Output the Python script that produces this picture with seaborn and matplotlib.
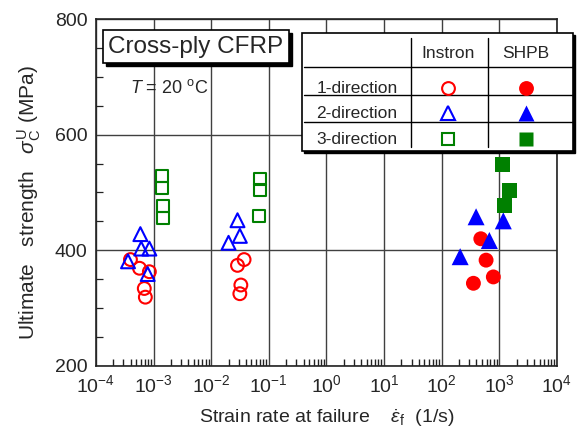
import matplotlib
matplotlib.use("Agg")
import matplotlib.pyplot as plt
from matplotlib.patches import Rectangle
from matplotlib.ticker import LogLocator, MultipleLocator, NullFormatter, NullLocator
import seaborn as sns

# Daten
inst_1_x = [3.97e-4, 5.7e-4, 8.45e-4, 6.9e-4, 7.2e-4, 0.0372, 0.0286, 0.0327, 0.0314]
inst_1_y = [384, 369, 363, 334, 319, 384, 374, 340, 325]
inst_2_x = [5.9e-4, 6.1e-4, 8.45e-4, 3.6e-4, 7.9e-4, 0.0286, 0.0314, 0.020]
inst_2_y = [428, 403, 403, 381, 359, 452, 425, 413]
inst_3_x = [1.39e-3, 1.39e-3, 1.44e-3, 1.48e-3, 0.0697, 0.0697, 0.068]
inst_3_y = [528, 507, 477, 456, 523, 504, 459]
shpb_1_x = [477, 589, 787, 355]
shpb_1_y = [420, 383, 354, 343]
shpb_2_x = [395, 1172, 671, 209]
shpb_2_y = [458, 451, 417, 389]
shpb_3_x = [1145, 1490, 1222]
shpb_3_y = [548, 504, 478]

row_labels = ["1-direction", "2-direction", "3-direction"]
col_labels = ["Instron", "SHPB"]

# Stil
sns.set_style("white")
plt.rcParams['font.family'] = ['Liberation Sans', 'DejaVu Sans']
plt.rcParams['mathtext.fontset'] = 'custom'
plt.rcParams['mathtext.rm'] = 'Liberation Sans'
plt.rcParams['mathtext.it'] = 'Liberation Sans:italic'
plt.rcParams['mathtext.bf'] = 'Liberation Sans:bold'

fig = plt.figure(figsize=(5.78, 4.28), dpi=100)
ax = fig.add_axes([0.166, 0.1449, 0.7976, 0.8107])

# Messpunkte
sns.scatterplot(x=inst_1_x, y=inst_1_y, marker='o', s=85, facecolor='none',
                edgecolor='red', linewidth=1.5, ax=ax, zorder=3)
sns.scatterplot(x=inst_2_x, y=inst_2_y, marker='^', s=100, facecolor='none',
                edgecolor='blue', linewidth=1.5, ax=ax, zorder=3)
sns.scatterplot(x=inst_3_x, y=inst_3_y, marker='s', s=75, facecolor='none',
                edgecolor='green', linewidth=1.5, ax=ax, zorder=3)
sns.scatterplot(x=shpb_1_x, y=shpb_1_y, marker='o', s=115, color='red',
                edgecolor='none', ax=ax, zorder=3)
sns.scatterplot(x=shpb_2_x, y=shpb_2_y, marker='^', s=150, color='blue',
                edgecolor='none', ax=ax, zorder=3)
sns.scatterplot(x=shpb_3_x, y=shpb_3_y, marker='s', s=115, color='green',
                edgecolor='none', ax=ax, zorder=3)

# Achsen
ax.set_xscale('log')
ax.set_xlim(1e-4, 1e4)
ax.set_ylim(200, 800)
ax.xaxis.set_major_locator(LogLocator(base=10, numticks=100))
ax.xaxis.set_minor_locator(NullLocator())
ax.xaxis.set_minor_formatter(NullFormatter())
ax.yaxis.set_major_locator(MultipleLocator(200))
ax.yaxis.set_minor_locator(MultipleLocator(50))
ax.tick_params(which='both', direction='in', bottom=True, left=True,
               top=False, right=False, labelsize=14, color='#222222')
ax.tick_params(which='major', length=0, pad=6)
ax.tick_params(which='minor', length=5, width=0.9)
for sp in ax.spines.values():
    sp.set_color('#222222')
    sp.set_linewidth(1.2)

# kleine Striche an der x-Achse (2..9 je Dekade)
minor_x = [m * 10.0 ** e for e in range(-4, 4) for m in range(2, 10)]
ax.vlines(minor_x, 0, 0.02, transform=ax.get_xaxis_transform(),
          color='#222222', linewidth=1.0, zorder=4)

# Grid
ax.grid(True, which='major', color='#404040', linewidth=1.0)
ax.set_axisbelow(True)

ax.set_xlabel(r'Strain rate at failure    $\dot{\varepsilon}_{\rm f}$  (1/s)',
              fontsize=14, labelpad=8)
ax.set_ylabel(r'Ultimate   strength   $\sigma_{\rm C}^{\rm U}$ (MPa)',
              fontsize=15)
ax.yaxis.set_label_coords(-0.115, 0.47)

# Titel-Box mit Schatten
W, H = 461.0, 347.0
bx0, bx1, by0, by1 = 0.0152, 0.4187, 0.873, 0.968
ax.add_patch(Rectangle((bx0 + 3 / W, by0 - 3 / H), bx1 - bx0, by1 - by0,
                       transform=ax.transAxes, facecolor='black',
                       edgecolor='black', zorder=6, clip_on=False))
ax.add_patch(Rectangle((bx0, by0), bx1 - bx0, by1 - by0,
                       transform=ax.transAxes, facecolor='white',
                       edgecolor='black', linewidth=1.2, zorder=7, clip_on=False))
ax.text((bx0 + bx1) / 2, (by0 + by1) / 2, 'Cross-ply CFRP', fontsize=17.5,
        ha='center', va='center', transform=ax.transAxes, zorder=8)
ax.text(0.074, 0.801, r'$T$ = 20 $^{\rm o}$C', fontsize=13, ha='left',
        va='center', transform=ax.transAxes, zorder=8)

# Legenden-Tabelle
tx0, tx1, ty0, ty1 = 0.448, 1.035, 0.620, 0.960
ax.add_patch(Rectangle((tx0 + 2 / W, ty0 - 2 / H), tx1 - tx0, ty1 - ty0,
                       transform=ax.transAxes, facecolor='black',
                       edgecolor='black', zorder=6, clip_on=False))
ax.add_patch(Rectangle((tx0, ty0), tx1 - tx0, ty1 - ty0,
                       transform=ax.transAxes, facecolor='white',
                       edgecolor='black', linewidth=1.2, zorder=7, clip_on=False))
for yy in [0.863, 0.781, 0.704]:
    ax.plot([tx0 + 0.004, tx1], [yy, yy], color='black', linewidth=1.0,
            transform=ax.transAxes, zorder=8, clip_on=False)
for xx in [0.683, 0.850]:
    ax.plot([xx, xx], [0.632, 0.945], color='black', linewidth=1.0,
            transform=ax.transAxes, zorder=8, clip_on=False)

col_x = [0.764, 0.933]
row_y = [0.801, 0.729, 0.654]
head_y = 0.902
for cx, lab in zip(col_x, col_labels):
    ax.text(cx, head_y, lab, fontsize=12.5, ha='center', va='center',
            transform=ax.transAxes, zorder=9)
for ry, lab in zip(row_y, row_labels):
    ax.text(0.566, ry, lab, fontsize=12.5, ha='center', va='center',
            transform=ax.transAxes, zorder=9)

colors = ['red', 'blue', 'green']
markers = ['o', '^', 's']
open_ms = [9.2, 10, 8.7]
fill_ms = [10.7, 12, 10.7]
for ry, c, m, mo, mf in zip(row_y, colors, markers, open_ms, fill_ms):
    ax.plot([col_x[0]], [ry], marker=m, markersize=mo, markerfacecolor='none',
            markeredgecolor=c, markeredgewidth=1.5, linestyle='none',
            transform=ax.transAxes, zorder=9, clip_on=False)
    ax.plot([col_x[1]], [ry], marker=m, markersize=mf, markerfacecolor=c,
            markeredgecolor='none', linestyle='none',
            transform=ax.transAxes, zorder=9, clip_on=False)

fig.savefig('out.png', dpi=100)
